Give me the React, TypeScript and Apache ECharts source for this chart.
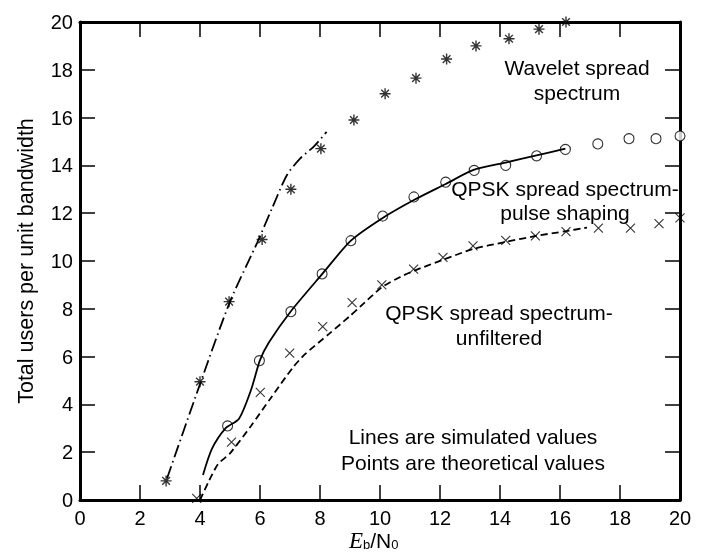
import React, { useEffect, useRef } from "react";
import * as echarts from "echarts";

// ---- data ----
const xTickLabels = ["0", "2", "4", "6", "8", "10", "12", "14", "16", "18", "20"];
const yTickLabels = ["0", "2", "4", "6", "8", "10", "12", "14", "16", "18", "20"];

// theoretical values (points)
const waveletPoints = [
  [2.87, 0.8], [4.0, 4.95], [4.97, 8.3], [6.07, 10.9], [7.03, 13.0], [8.03, 14.7],
  [9.13, 15.9], [10.17, 17.0], [11.2, 17.65], [12.22, 18.45], [13.2, 19.0],
  [14.3, 19.3], [15.3, 19.7], [16.2, 20.0],
];
const pulseShapingPoints = [
  [4.92, 3.1], [5.98, 5.83], [7.03, 7.88], [8.07, 9.46], [9.03, 10.85], [10.09, 11.88],
  [11.13, 12.68], [12.19, 13.3], [13.14, 13.79], [14.19, 14.0], [15.22, 14.4],
  [16.18, 14.67], [17.26, 14.9], [18.3, 15.12], [19.2, 15.12], [20.0, 15.23],
];
const unfilteredPoints = [
  [3.89, 0.07], [5.05, 2.42], [6.01, 4.5], [6.99, 6.15], [8.09, 7.25], [9.07, 8.26],
  [10.06, 9.0], [11.12, 9.66], [12.1, 10.15], [13.1, 10.63], [14.19, 10.86],
  [15.18, 11.05], [16.2, 11.23], [17.28, 11.38], [18.35, 11.38], [19.3, 11.56], [20.0, 11.8],
];

// simulated values (lines)
const waveletLine = [
  [2.9, 0.9], [4.0, 4.85], [5.0, 8.3], [5.9, 10.75], [6.4, 12.2], [6.9, 13.6],
  [7.35, 14.3], [7.8, 14.8], [8.22, 15.4],
];
const pulseShapingLine = [
  [4.1, 1.05], [4.4, 2.15], [4.85, 3.0], [5.3, 3.4], [5.7, 4.6], [6.0, 5.85], [6.3, 6.6],
  [7.03, 7.9], [8.07, 9.45], [9.03, 10.85], [10.09, 11.8], [11.13, 12.55], [12.19, 13.22],
  [13.1, 13.8], [14.19, 14.12], [15.22, 14.42], [16.18, 14.7],
];
const unfilteredLine = [
  [4.0, 0.0], [4.3, 0.8], [4.6, 1.5], [5.0, 1.95], [5.7, 3.1], [6.35, 4.25], [7.1, 5.55],
  [7.5, 6.1], [8.3, 6.95], [9.0, 7.7], [9.35, 8.1], [10.06, 8.9], [10.7, 9.35],
  [11.15, 9.6], [12.1, 10.05], [13.1, 10.5], [14.2, 10.8], [15.2, 11.05], [16.2, 11.25],
  [16.9, 11.4],
];

const annotations = [
  { text: "Wavelet spread\nspectrum", x: 577, y: 80, lh: 25 },
  { text: "QPSK spread spectrum-\npulse shaping", x: 565, y: 200, lh: 24 },
  { text: "QPSK spread spectrum-\nunfiltered", x: 499, y: 325, lh: 25 },
  { text: "Lines are simulated values\nPoints are theoretical values", x: 473, y: 449, lh: 26 },
];
const yTitle = "Total users per unit bandwidth";

const SANS = "Liberation Sans, Arial, Helvetica, sans-serif";
const SERIF = "Liberation Serif, Times New Roman, serif";

const starPath = "path://M5,0L5,10M0,5L10,5M1.5,1.5L8.5,8.5M8.5,1.5L1.5,8.5";
const crossPath = "path://M0,0L10,10M10,0L0,10";
const TICK_LEN = 15;
const GRID = { left: 80, right: 24, top: 22, bottom: 52 };

// visible frame axes (bottom layer)
function frameAxis(position: string, labels: string[] | null, margin: number, mirrored: boolean) {
  return {
    type: "value",
    position,
    min: 0,
    max: 20,
    interval: 2,
    splitLine: { show: false },
    axisLine: { show: true, onZero: !mirrored ? true : false, lineStyle: { color: "#000", width: 3 } },
    axisTick: { show: true, inside: true, length: TICK_LEN, lineStyle: { color: "#000", width: 1.5 } },
    axisLabel: labels
      ? {
          show: true,
          color: "#000",
          fontSize: 20,
          fontFamily: SANS,
          margin,
          formatter: (v: number) => labels[Math.round(v / 2)] ?? "",
        }
      : { show: false },
  };
}

// invisible axes with the same scale (top layer, carries the data)
function hiddenAxis() {
  return {
    type: "value",
    min: 0,
    max: 20,
    interval: 2,
    splitLine: { show: false },
    axisLine: { show: false },
    axisTick: { show: false },
    axisLabel: { show: false },
  };
}

export default function App() {
  const frameRef = useRef<HTMLDivElement>(null);
  const dataRef = useRef<HTMLDivElement>(null);
  useEffect(() => {
    if (!frameRef.current || !dataRef.current) return;
    const frame = echarts.init(frameRef.current, undefined, { renderer: "svg" });
    frame.setOption({
      animation: false,
      grid: GRID,
      xAxis: [frameAxis("bottom", xTickLabels, 8, false), frameAxis("top", null, 8, true)],
      yAxis: [frameAxis("left", yTickLabels, 7, false), frameAxis("right", null, 7, true)],
      series: [{ type: "scatter", data: [], silent: true }],
    });

    const chart = echarts.init(dataRef.current, undefined, { renderer: "svg" });
    chart.setOption({
      animation: false,
      grid: GRID,
      xAxis: hiddenAxis(),
      yAxis: hiddenAxis(),
      series: [
        {
          type: "line", data: waveletLine, showSymbol: false, smooth: 0.25, clip: false,
          lineStyle: { color: "#000", width: 1.8, type: [13, 4, 1.5, 4] },
        },
        {
          type: "line", data: pulseShapingLine, showSymbol: false, smooth: 0.25, clip: false,
          lineStyle: { color: "#000", width: 1.8, type: "solid" },
        },
        {
          type: "line", data: unfilteredLine, showSymbol: false, smooth: 0.25, clip: false,
          lineStyle: { color: "#000", width: 1.8, type: [7, 4] },
        },
        {
          type: "scatter", data: waveletPoints, symbol: starPath, symbolSize: 11, clip: false,
          itemStyle: { color: "rgba(0,0,0,0)", borderColor: "#000", borderWidth: 1.4 },
        },
        {
          type: "scatter", data: pulseShapingPoints, symbol: "circle", symbolSize: 10, clip: false,
          itemStyle: { color: "#fff", borderColor: "#000", borderWidth: 1.1 },
        },
        {
          type: "scatter", data: unfilteredPoints, symbol: crossPath, symbolSize: 9, clip: false,
          itemStyle: { color: "rgba(0,0,0,0)", borderColor: "#000", borderWidth: 1.1 },
        },
      ],
      graphic: [
        ...annotations.map((a) => ({
          type: "text",
          x: a.x,
          y: a.y,
          style: {
            text: a.text, fill: "#000", fontSize: 21, fontFamily: SANS,
            align: "center", verticalAlign: "middle", lineHeight: a.lh,
          },
        })),
        {
          type: "text", x: 26, y: 261, rotation: Math.PI / 2,
          style: { text: yTitle, fill: "#000", fontSize: 21.5, fontFamily: SANS, align: "center", verticalAlign: "middle" },
        },
        {
          type: "text", x: 349, y: 540,
          style: {
            text: "{e|E}{s|b}{n|/N}{s|0}",
            align: "left", verticalAlign: "middle", fill: "#000",
            rich: {
              e: { fontSize: 23, fontStyle: "italic", fontFamily: SERIF, lineHeight: 22, fill: "#000" },
              n: { fontSize: 21, fontFamily: SANS, lineHeight: 22, fill: "#000" },
              s: { fontSize: 13, fontFamily: SANS, lineHeight: 12, verticalAlign: "bottom", fill: "#000" },
            },
          },
        },
      ],
    });
    return () => {
      chart.dispose();
      frame.dispose();
    };
  }, []);
  return (
    <div style={{ position: "fixed", left: 0, top: 0, width: 704, height: 552 }}>
      <div ref={frameRef} style={{ position: "absolute", left: 0, top: 0, width: 704, height: 552 }} />
      <div ref={dataRef} style={{ position: "absolute", left: 0, top: 0, width: 704, height: 552 }} />
    </div>
  );
}
